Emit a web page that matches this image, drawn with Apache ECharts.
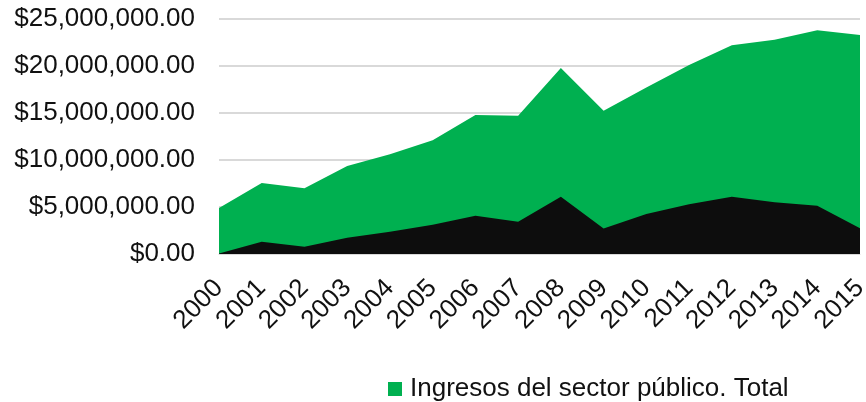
<!DOCTYPE html>
<html>
<head>
<meta charset="utf-8">
<script src="https://cdn.jsdelivr.net/npm/echarts@6/dist/echarts.min.js"></script>
<style>
  html, body { margin: 0; padding: 0; background: #fff; }
  #main { width: 866px; height: 402px; }
</style>
</head>
<body>
<div id="main"></div>
<script>
// años
const years = ['2000', '2001', '2002', '2003', '2004', '2005', '2006', '2007',
  '2008', '2009', '2010', '2011', '2012', '2013', '2014', '2015']
// Ingresos del sector público. Total
const totalIngresos = [4900000, 7550000, 7000000, 9350000, 10600000, 12100000, 14800000, 14700000,
  19800000, 15250000, 17700000, 20100000, 22200000, 22800000, 23800000, 23300000]
// serie negra (sin leyenda)
const otraSerie = [50000, 1300000, 780000, 1730000, 2370000, 3100000, 4080000, 3440000,
  6100000, 2700000, 4260000, 5300000, 6100000, 5500000, 5140000, 2730000]

const fmt = new Intl.NumberFormat('en-US', { minimumFractionDigits: 2, maximumFractionDigits: 2 })

const myChart = echarts.init(document.getElementById('main'))
const option = {
  animation: false,
  textStyle: { fontFamily: 'Liberation Sans, Arial, sans-serif' },
  grid: { left: 219, right: 6, top: 19, bottom: 148, containLabel: false, outerBoundsMode: 'none' },
  legend: {
    data: ['Ingresos del sector público. Total'],
    top: 369,
    left: 383,
    itemWidth: 14,
    itemHeight: 14,
    icon: 'rect',
    textStyle: { fontSize: 26, color: '#111', lineHeight: 30, padding: [0, 0, 0, 3] }
  },
  xAxis: {
    type: 'category',
    data: years,
    boundaryGap: false,
    axisLine: { lineStyle: { color: '#d9d9d9', width: 1 } },
    axisTick: { show: false },
    axisLabel: { rotate: 45, fontSize: 26, color: '#111', margin: 30, interval: 0, hideOverlap: false }
  },
  yAxis: {
    type: 'value',
    min: 0,
    max: 25000000,
    interval: 5000000,
    axisLine: { show: false },
    axisTick: { show: false },
    splitLine: { lineStyle: { color: '#d9d9d9', width: 2 } },
    axisLabel: {
      fontSize: 26,
      color: '#111',
      margin: 24,
      formatter: function (v) { return '$' + fmt.format(v) }
    }
  },
  series: [
    {
      name: 'Ingresos del sector público. Total',
      type: 'line',
      data: totalIngresos,
      symbol: 'none',
      lineStyle: { width: 0 },
      itemStyle: { color: '#00b050' },
      areaStyle: { color: '#00b050', opacity: 1 }
    },
    {
      name: 'Otra',
      type: 'line',
      data: otraSerie,
      symbol: 'none',
      lineStyle: { width: 0 },
      itemStyle: { color: '#0d0d0d' },
      areaStyle: { color: '#0d0d0d', opacity: 1 }
    }
  ]
}
myChart.setOption(option)
</script>
</body>
</html>
